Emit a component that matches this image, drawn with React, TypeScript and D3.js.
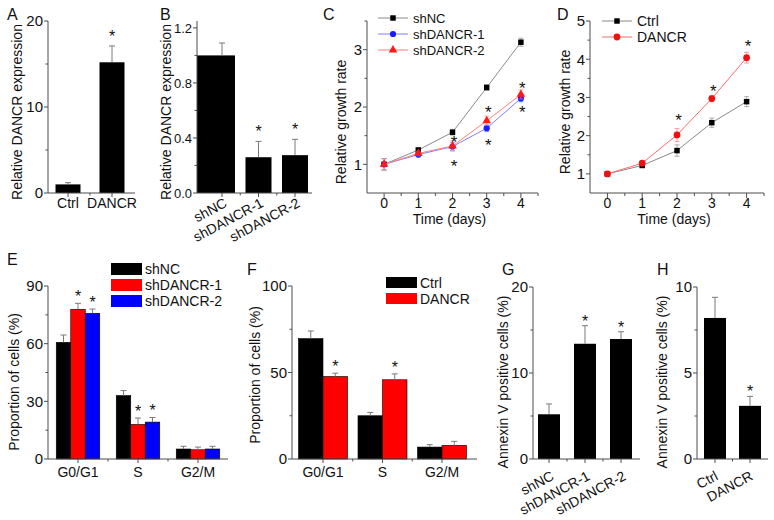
import React from 'react';
import * as d3 from 'd3';

const FONT = "'Liberation Sans', Arial, Helvetica, sans-serif";
const TXT = '#111';
const AXC = '#4d4d4d';
const ERRC = '#7a7a7a';

// ---------- Panel A ----------
const aCats = ['Ctrl', 'DANCR'];
const aVals = [1.0, 15.2];
const aErrs = [0.2, 1.9];
const aSig = [false, true];
const aTicks = [0, 10, 20];
const aMinor = [5, 15];

// ---------- Panel B ----------
const bCats = ['shNC', 'shDANCR-1', 'shDANCR-2'];
const bVals = [1.0, 0.26, 0.275];
const bErrs = [0.09, 0.115, 0.115];
const bSig = [false, true, true];
const bTicks = [0, 0.4, 0.8, 1.2];
const bMinor = [0.2, 0.6, 1.0];

// ---------- Panel C ----------
const days = [0, 1, 2, 3, 4];
const cNames = ['shNC', 'shDANCR-1', 'shDANCR-2'];
const cShNC = [1.0, 1.25, 1.56, 2.34, 3.13];
const cShNCErr = [0.1, 0.04, 0.05, 0.05, 0.07];
const cSh1 = [1.0, 1.17, 1.31, 1.63, 2.15];
const cSh1Err = [0.1, 0.04, 0.07, 0.06, 0.06];
const cSh2 = [1.0, 1.19, 1.32, 1.76, 2.22];
const cSh2Err = [0.1, 0.04, 0.09, 0.08, 0.08];
const cStarDays = [2, 2, 3, 3, 4, 4];
const cStarVals = [1.45, 1.03, 1.97, 1.4, 2.39, 1.97];
const cTicks = [1, 2, 3];
const cMinor = [1.5, 2.5, 3.5];

// ---------- Panel D ----------
const dNames = ['Ctrl', 'DANCR'];
const dCtrl = [1.0, 1.22, 1.61, 2.34, 2.89];
const dCtrlErr = [0.05, 0.04, 0.15, 0.12, 0.13];
const dDANCR = [1.0, 1.28, 2.02, 2.97, 4.04];
const dDANCRErr = [0.04, 0.04, 0.17, 0.08, 0.14];
const dStarDays = [2, 3, 4];
const dStarVals = [2.5, 3.26, 4.45];
const dTicks = [1, 2, 3, 4, 5];
const dMinor = [1.5, 2.5, 3.5, 4.5];

// ---------- Panel E ----------
const phases = ['G0/G1', 'S', 'G2/M'];
const eSeries = ['shNC', 'shDANCR-1', 'shDANCR-2'];
const eShNC = [60.7, 33.0, 5.2];
const eShNCErr = [3.8, 2.6, 1.4];
const eSh1 = [77.9, 18.0, 4.8];
const eSh1Err = [3.1, 3.3, 1.4];
const eSh2 = [75.8, 19.2, 5.2];
const eSh2Err = [2.2, 2.4, 1.4];
const eSh1Sig = [true, true, false];
const eSh2Sig = [true, true, false];
const eTicks = [0, 30, 60, 90];
const eMinor = [15, 45, 75];

// ---------- Panel F ----------
const fSeries = ['Ctrl', 'DANCR'];
const fCtrl = [69.6, 25.0, 6.9];
const fCtrlErr = [4.4, 1.9, 1.4];
const fDANCR = [47.7, 45.8, 7.9];
const fDANCRErr = [1.9, 3.4, 2.3];
const fDANCRSig = [true, true, false];
const fTicks = [0, 50, 100];
const fMinor = [25, 75];

// ---------- Panel G ----------
const gCats = ['shNC', 'shDANCR-1', 'shDANCR-2'];
const gVals = [5.2, 13.4, 13.95];
const gErrs = [1.2, 2.1, 0.85];
const gSig = [false, true, true];
const gTicks = [0, 10, 20];
const gMinor = [5, 15];

// ---------- Panel H ----------
const hCats = ['Ctrl', 'DANCR'];
const hVals = [8.2, 3.09];
const hErrs = [1.2, 0.55];
const hSig = [false, true];
const hTicks = [0, 5, 10];
const hMinor = [2.5, 7.5];

type LinScale = d3.ScaleLinear<number, number>;

function YAxis({ scale, x, ticks, minor, fmt, fs = 15 }: { scale: LinScale; x: number; ticks: number[]; minor: number[]; fmt: (n: number) => string; fs?: number }) {
  const [y0, y1] = scale.range();
  return (
    <g>
      <line x1={x} x2={x} y1={y0} y2={y1} stroke={AXC} strokeWidth={1} />
      {ticks.map((t) => (
        <g key={'t' + t}>
          <line x1={x - 4} x2={x} y1={scale(t)} y2={scale(t)} stroke={AXC} />
          <text x={x - 5} y={scale(t)} dy="0.36em" textAnchor="end" fontSize={fs} fill={TXT}>
            {fmt(t)}
          </text>
        </g>
      ))}
      {minor.map((t) => (
        <line key={'m' + t} x1={x - 2.5} x2={x} y1={scale(t)} y2={scale(t)} stroke={AXC} />
      ))}
    </g>
  );
}

function YTitle({ x, y, text }: { x: number; y: number; text: string }) {
  return (
    <text transform={`translate(${x},${y}) rotate(-90)`} textAnchor="middle" dominantBaseline="central" fontSize={14} fill={TXT}>
      {text}
    </text>
  );
}

function Letter({ x, y, t }: { x: number; y: number; t: string }) {
  return (
    <text x={x} y={y} fontSize={16} fill={TXT}>
      {t}
    </text>
  );
}

function Star({ x, y, fs = 16 }: { x: number; y: number; fs?: number }) {
  return (
    <text x={x} y={y + fs * 0.56} textAnchor="middle" fontSize={fs} fill={TXT}>
      *
    </text>
  );
}

function ErrUp({ x, y0, y1, w = 3 }: { x: number; y0: number; y1: number; w?: number }) {
  return (
    <g stroke={ERRC} strokeWidth={1}>
      <line x1={x} x2={x} y1={y0} y2={y1} />
      <line x1={x - w} x2={x + w} y1={y1} y2={y1} />
    </g>
  );
}

function BarPanel(props: {
  cats: string[]; vals: number[]; errs: number[]; sig: boolean[];
  y: LinScale; axisX0: number; axisX1: number; c0: number; c1: number; barW: number;
  ticks: number[]; minor: number[]; fmt: (n: number) => string; tickFs?: number;
  rotate: boolean; labY: number; labDx?: number; starOff: number; firstFromAxis?: boolean;
}) {
  const { cats, vals, errs, sig, y, axisX0, axisX1, c0, c1, barW, ticks, minor, fmt, tickFs, rotate, labY, labDx, starOff, firstFromAxis } = props;
  const x = d3.scalePoint<string>().domain(cats).range([c0, c1]);
  const base = y(0);
  const step = x.step();
  return (
    <g>
      {cats.map((c, i) => {
        const cx = x(c)!;
        const left = i === 0 && firstFromAxis ? axisX0 : cx - barW / 2;
        const right = cx + barW / 2;
        return (
          <g key={c}>
            <rect x={left} y={y(vals[i])} width={right - left} height={base - y(vals[i])} fill="#000" />
            <ErrUp x={cx} y0={y(vals[i])} y1={y(vals[i] + errs[i])} />
            {sig[i] && <Star x={cx} y={y(vals[i] + errs[i]) - starOff} />}
          </g>
        );
      })}
      <YAxis scale={y} x={axisX0} ticks={ticks} minor={minor} fmt={fmt} fs={tickFs ?? 15} />
      <line x1={axisX0} x2={axisX1} y1={base} y2={base} stroke={AXC} />
      {cats.map((c) => (
        <line key={'xt' + c} x1={x(c)!} x2={x(c)!} y1={base} y2={base + 4} stroke={AXC} />
      ))}
      {cats.slice(1).map((c) => (
        <line key={'xm' + c} x1={x(c)! - step / 2} x2={x(c)! - step / 2} y1={base} y2={base + 2.5} stroke={AXC} />
      ))}
      {cats.map((c) =>
        rotate ? (
          <text key={'l' + c} transform={`translate(${x(c)! + (labDx ?? 6)},${labY}) rotate(-28)`} textAnchor="end" fontSize={14} fill={TXT}>
            {c}
          </text>
        ) : (
          <text key={'l' + c} x={x(c)!} y={labY} textAnchor="middle" fontSize={14} fill={TXT}>
            {c}
          </text>
        )
      )}
    </g>
  );
}

function GroupPanel(props: {
  groups: string[]; series: string[]; colors: string[]; vals: number[][]; errs: number[][]; sigs: boolean[][];
  y: LinScale; axisX0: number; axisX1: number; c0: number; c1: number; subW: number;
  ticks: number[]; minor: number[];
  legX: number; legY: number; legStep: number; legW: number; legH: number;
}) {
  const { groups, series, colors, vals, errs, sigs, y, axisX0, axisX1, c0, c1, subW, ticks, minor, legX, legY, legStep, legW, legH } = props;
  const xg = d3.scalePoint<string>().domain(groups).range([c0, c1]);
  const xs = d3.scaleBand<string>().domain(series).range([(-subW * series.length) / 2, (subW * series.length) / 2]);
  const base = y(0);
  const step = xg.step();
  return (
    <g>
      {groups.map((g, gi) => (
        <g key={g}>
          {series.map((s, si) => {
            const bx = xg(g)! + xs(s)!;
            const v = vals[si][gi];
            const e = errs[si][gi];
            return (
              <g key={s}>
                <rect x={bx} y={y(v)} width={xs.bandwidth()} height={base - y(v)} fill={colors[si]} stroke="#000" strokeWidth={0.6} />
                <ErrUp x={bx + xs.bandwidth() / 2} y0={y(v)} y1={y(v + e)} />
                {sigs[si][gi] && <Star x={bx + xs.bandwidth() / 2} y={y(v + e) - 10} />}
              </g>
            );
          })}
        </g>
      ))}
      <YAxis scale={y} x={axisX0} ticks={ticks} minor={minor} fmt={d3.format('d')} />
      <line x1={axisX0} x2={axisX1} y1={base} y2={base} stroke={AXC} />
      {groups.map((g) => (
        <line key={'t' + g} x1={xg(g)!} x2={xg(g)!} y1={base} y2={base + 4} stroke={AXC} />
      ))}
      {groups.slice(1).map((g) => (
        <line key={'m' + g} x1={xg(g)! - step / 2} x2={xg(g)! - step / 2} y1={base} y2={base + 2.5} stroke={AXC} />
      ))}
      {groups.map((g) => (
        <text key={'l' + g} x={xg(g)!} y={base + 18} textAnchor="middle" fontSize={14} fill={TXT}>
          {g}
        </text>
      ))}
      {series.map((s, si) => (
        <g key={'lg' + s}>
          <rect x={legX} y={legY + si * legStep} width={legW} height={legH} fill={colors[si]} />
          <text x={legX + legW + 3} y={legY + si * legStep + legH / 2} dy="0.36em" fontSize={14} fill={TXT}>
            {s}
          </text>
        </g>
      ))}
    </g>
  );
}

type LineSeries = { name: string; vals: number[]; errs: number[]; line: string; mark: string; shape: d3.SymbolType; size: number };

function LinePanel(props: {
  series: LineSeries[]; x: LinScale; y: LinScale; ticks: number[]; minor: number[];
  starDays: number[]; starVals: number[]; legX: number; legY: number; legStep: number; legFs: number;
}) {
  const { series, x, y, ticks, minor, starDays, starVals, legX, legY, legStep, legFs } = props;
  const [x0, x1] = x.range();
  const base = y.range()[0];
  const line = d3.line<number>().x((_, i) => x(days[i])).y((v) => y(v));
  return (
    <g>
      <YAxis scale={y} x={x0} ticks={ticks} minor={minor} fmt={d3.format('d')} />
      <line x1={x0} x2={x1} y1={base} y2={base} stroke={AXC} />
      {days.map((d) => (
        <g key={'xt' + d}>
          <line x1={x(d)} x2={x(d)} y1={base} y2={base + 5} stroke={AXC} />
          <text x={x(d)} y={base + 14.5} textAnchor="middle" fontSize={14} fill={TXT}>
            {d}
          </text>
        </g>
      ))}
      {days.map((d) => (
        <line key={'xm' + d} x1={x(d + 0.5)} x2={x(d + 0.5)} y1={base} y2={base + 3} stroke={AXC} />
      ))}
      <text x={(x0 + x1) / 2 - 3} y={base + 31} textAnchor="middle" fontSize={14} fill={TXT}>
        Time (days)
      </text>
      {series.map((s) => (
        <g key={s.name}>
          <path d={line(s.vals) || ''} fill="none" stroke={s.line} strokeWidth={1} />
          {s.vals.map((v, i) => (
            <g key={i} stroke={s.line} strokeWidth={0.8} opacity={0.85}>
              <line x1={x(days[i])} x2={x(days[i])} y1={y(v - s.errs[i])} y2={y(v + s.errs[i])} />
              <line x1={x(days[i]) - 2.5} x2={x(days[i]) + 2.5} y1={y(v - s.errs[i])} y2={y(v - s.errs[i])} />
              <line x1={x(days[i]) - 2.5} x2={x(days[i]) + 2.5} y1={y(v + s.errs[i])} y2={y(v + s.errs[i])} />
            </g>
          ))}
          {s.vals.map((v, i) => (
            <path key={'p' + i} d={d3.symbol().type(s.shape).size(s.size)() || ''} transform={`translate(${x(days[i])},${y(v)})`} fill={s.mark} />
          ))}
        </g>
      ))}
      {starDays.map((d, i) => (
        <Star key={'s' + i} x={x(d) + 1.5} y={y(starVals[i])} fs={17} />
      ))}
      {series.map((s, si) => {
        const ly = legY + si * legStep;
        return (
          <g key={'lg' + s.name}>
            <line x1={legX} x2={legX + 30} y1={ly} y2={ly} stroke={s.line} />
            <path d={d3.symbol().type(s.shape).size(s.size)() || ''} transform={`translate(${legX + 15},${ly})`} fill={s.mark} />
            <text x={legX + 35} y={ly} dy="0.36em" fontSize={legFs} fill={TXT}>
              {s.name}
            </text>
          </g>
        );
      })}
    </g>
  );
}

export default function App() {
  const yA = d3.scaleLinear().domain([0, 20]).range([193, 21]);
  const yB = d3.scaleLinear().domain([0, 1.25]).range([193, 21]);
  const yC = d3.scaleLinear().domain([0.5, 3.5]).range([193, 21]);
  const xC = d3.scaleLinear().domain([-0.5, 4.5]).range([367, 538]);
  const yD = d3.scaleLinear().domain([0.5, 5]).range([193, 21]);
  const xD = d3.scaleLinear().domain([-0.5, 4.5]).range([590, 764]);
  const yE = d3.scaleLinear().domain([0, 90]).range([459, 286]);
  const yF = d3.scaleLinear().domain([0, 100]).range([459, 286]);
  const yG = d3.scaleLinear().domain([0, 20]).range([459, 287]);
  const yH = d3.scaleLinear().domain([0, 10]).range([459, 287]);

  const cSeries: LineSeries[] = [
    { name: cNames[0], vals: cShNC, errs: cShNCErr, line: '#8a8a8a', mark: '#000', shape: d3.symbolSquare, size: 30 },
    { name: cNames[1], vals: cSh1, errs: cSh1Err, line: '#7f7fff', mark: '#1a1aff', shape: d3.symbolCircle, size: 30 },
    { name: cNames[2], vals: cSh2, errs: cSh2Err, line: '#ff7f7f', mark: '#ff1a1a', shape: d3.symbolTriangle, size: 32 },
  ];
  const dSeries: LineSeries[] = [
    { name: dNames[0], vals: dCtrl, errs: dCtrlErr, line: '#8a8a8a', mark: '#000', shape: d3.symbolSquare, size: 30 },
    { name: dNames[1], vals: dDANCR, errs: dDANCRErr, line: '#ff6a6a', mark: '#ee1111', shape: d3.symbolCircle, size: 36 },
  ];

  return (
    <svg width={774} height={520} style={{ position: 'absolute', left: 0, top: 0 }} fontFamily={FONT}>
      <rect width={774} height={520} fill="#fff" />

      {/* A */}
      <Letter x={7} y={20} t="A" />
      <YTitle x={17} y={112} text="Relative DANCR expression" />
      <BarPanel cats={aCats} vals={aVals} errs={aErrs} sig={aSig} y={yA} axisX0={48} axisX1={135} c0={68} c1={112} barW={25}
        ticks={aTicks} minor={aMinor} fmt={d3.format('d')} rotate={false} labY={208} starOff={13} />

      {/* B */}
      <Letter x={160} y={20} t="B" />
      <YTitle x={166} y={112} text="Relative DANCR expression" />
      <BarPanel cats={bCats} vals={bVals} errs={bErrs} sig={bSig} y={yB} axisX0={197} axisX1={312} c0={222} c1={295} barW={26}
        ticks={bTicks} minor={bMinor} fmt={d3.format('.1f')} tickFs={13} rotate={true} labY={206} starOff={13} firstFromAxis={true} />

      {/* C */}
      <Letter x={323} y={20} t="C" />
      <YTitle x={341} y={122} text="Relative growth rate" />
      <LinePanel series={cSeries} x={xC} y={yC} ticks={cTicks} minor={cMinor} starDays={cStarDays} starVals={cStarVals}
        legX={378} legY={18} legStep={16} legFs={13} />

      {/* D */}
      <Letter x={557} y={20} t="D" />
      <YTitle x={565} y={112} text="Relative growth rate" />
      <LinePanel series={dSeries} x={xD} y={yD} ticks={dTicks} minor={dMinor} starDays={dStarDays} starVals={dStarVals}
        legX={602} legY={21} legStep={16} legFs={14} />

      {/* E */}
      <Letter x={7} y={265} t="E" />
      <YTitle x={14} y={382} text="Proportion of cells (%)" />
      <GroupPanel groups={phases} series={eSeries} colors={['#000', '#ff0000', '#0000ff']}
        vals={[eShNC, eSh1, eSh2]} errs={[eShNCErr, eSh1Err, eSh2Err]} sigs={[[false, false, false], eSh1Sig, eSh2Sig]}
        y={yE} axisX0={48} axisX1={228} c0={78} c1={198} subW={14.5} ticks={eTicks} minor={eMinor}
        legX={111} legY={263} legStep={16} legW={31} legH={12} />

      {/* F */}
      <Letter x={247} y={275} t="F" />
      <YTitle x={255} y={375} text="Proportion of cells (%)" />
      <GroupPanel groups={phases} series={fSeries} colors={['#000', '#ff0000']}
        vals={[fCtrl, fDANCR]} errs={[fCtrlErr, fDANCRErr]} sigs={[[false, false, false], fDANCRSig]}
        y={yF} axisX0={292} axisX1={477} c0={323} c1={442} subW={24.5} ticks={fTicks} minor={fMinor}
        legX={386} legY={277} legStep={16} legW={31} legH={11} />

      {/* G */}
      <Letter x={502} y={275} t="G" />
      <YTitle x={503} y={382} text="Annexin V positive cells (%)" />
      <BarPanel cats={gCats} vals={gVals} errs={gErrs} sig={gSig} y={yG} axisX0={533} axisX1={640} c0={549} c1={621} barW={22}
        ticks={gTicks} minor={gMinor} fmt={d3.format('d')} rotate={true} labY={479} starOff={8} />

      {/* H */}
      <Letter x={657} y={275} t="H" />
      <YTitle x={662} y={382} text="Annexin V positive cells (%)" />
      <BarPanel cats={hCats} vals={hVals} errs={hErrs} sig={hSig} y={yH} axisX0={697} axisX1={768} c0={715} c1={750} barW={22}
        ticks={hTicks} minor={hMinor} fmt={d3.format('d')} rotate={true} labY={479} labDx={4} starOff={8} />
    </svg>
  );
}
